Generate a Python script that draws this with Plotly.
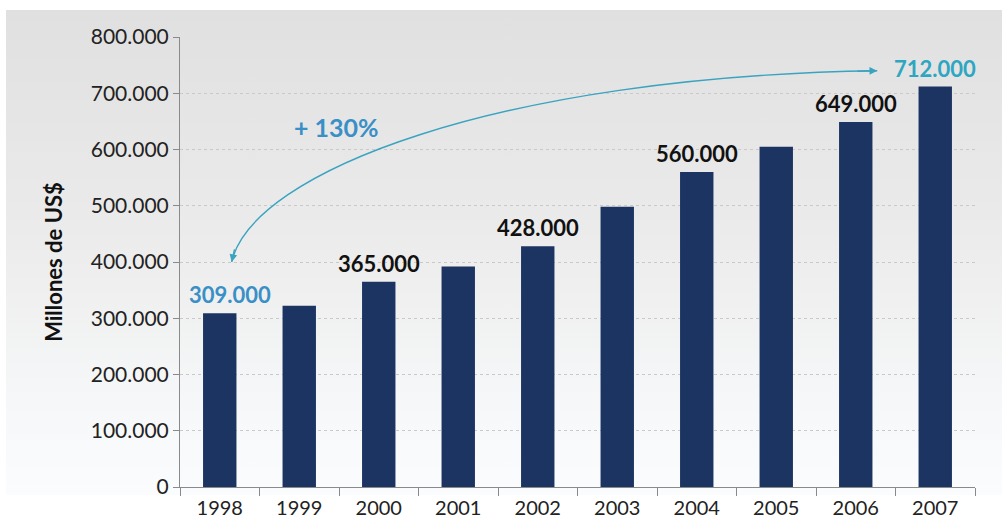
import base64
import plotly.graph_objects as go

# Exportaciones anuales (millones de US$)
years = [1998, 1999, 2000, 2001, 2002, 2003, 2004, 2005, 2006, 2007]
values = [309000, 322000, 365000, 392000, 428000, 498000, 560000, 605000, 649000, 712000]

# Años cuyo valor se rotula sobre la barra
labeled_years = [1998, 2000, 2002, 2004, 2006, 2007]
y_ticks = [0, 100000, 200000, 300000, 400000, 500000, 600000, 700000, 800000]
growth_text = "+ 130%"

NAVY = "#1b3461"
BLUE = "#3a8fc6"
TEAL = "#2ea6c2"
ARROW = "#3aa3c0"
FONT = "Lato"


def fmt(v):
    return f"{v:,}".replace(",", ".")


fig = go.Figure()
fig.add_trace(go.Bar(
    x=years, y=values, width=0.42,
    marker=dict(color=NAVY, line=dict(width=0)),
    hoverinfo="skip",
))

# Rótulos de valor sobre las barras
annotations = []
for yr, v in zip(years, values):
    if yr not in labeled_years:
        continue
    color = "#111111"
    xshift = 0
    if yr == years[0]:
        color, xshift = BLUE, 10
    elif yr == years[-1]:
        color = TEAL
    annotations.append(dict(
        x=yr, y=v, xref="x", yref="y", text=f"<b>{fmt(v)}</b>",
        showarrow=False, yanchor="bottom", yshift=3, xshift=xshift,
        font=dict(family=FONT, size=22, color=color),
    ))

# Texto de crecimiento
annotations.append(dict(
    x=1999.47, y=640000, xref="x", yref="y", text=f"<b>{growth_text}</b>",
    showarrow=False, font=dict(family=FONT, size=25, color=BLUE),
))

# Curva que une el primer y el último año
p0 = (2006.27, 740000)
p1 = (2001.5, 730000)
p2 = (1998.4, 560000)
p3 = (1998.15, 400000)
curve = (f"M {p0[0]},{p0[1]} C {p1[0]},{p1[1]} {p2[0]},{p2[1]} "
         f"{p3[0]},{p3[1]}")
shapes = [dict(type="path", path=curve, xref="x", yref="y",
               line=dict(color=ARROW, width=1.4), layer="above")]

# Puntas de flecha en ambos extremos
annotations.append(dict(
    x=p3[0], y=p3[1], ax=1998.19, ay=425000, xref="x", yref="y",
    axref="x", ayref="y", text="", showarrow=True, arrowhead=2,
    arrowsize=1.1, arrowwidth=1.4, arrowcolor=ARROW,
))
annotations.append(dict(
    x=p0[0], y=p0[1], ax=2006.0, ay=739000, xref="x", yref="y",
    axref="x", ayref="y", text="", showarrow=True, arrowhead=2,
    arrowsize=1.1, arrowwidth=1.4, arrowcolor=ARROW,
))

# Fondo con degradado vertical
svg = (
    '<svg xmlns="http://www.w3.org/2000/svg" width="100" height="100" '
    'preserveAspectRatio="none">'
    '<defs><linearGradient id="g" x1="0" y1="0" x2="0" y2="1">'
    '<stop offset="0" stop-color="#e0e0e0"/>'
    '<stop offset="0.45" stop-color="#ebebeb"/>'
    '<stop offset="0.8" stop-color="#f6f7f8"/>'
    '<stop offset="1" stop-color="#fbfcfd"/>'
    '</linearGradient></defs>'
    '<rect width="100" height="100" fill="url(#g)"/></svg>'
)
src = "data:image/svg+xml;base64," + base64.b64encode(svg.encode()).decode()
images = [dict(source=src, xref="paper", yref="paper",
               x=-0.2189, y=1.06, sizex=1.2529, sizey=1.078,
               xanchor="left", yanchor="top", sizing="stretch",
               layer="below")]

boundaries = [yr - 0.5 for yr in years] + [years[-1] + 0.5]

fig.update_layout(
    width=1002, height=523,
    margin=dict(l=180, r=27, t=37, b=36),
    paper_bgcolor="white",
    plot_bgcolor="rgba(0,0,0,0)",
    separators=",.",
    showlegend=False,
    font=dict(family=FONT, color="#222222"),
    annotations=annotations,
    shapes=shapes,
    images=images,
    xaxis=dict(
        range=[years[0] - 0.5, years[-1] + 0.5], automargin=False,
        tickmode="array", tickvals=years, ticktext=[str(y) for y in years],
        ticks="outside", ticklen=3, tickcolor="rgba(0,0,0,0)",
        showgrid=False, zeroline=False,
        showline=True, linecolor="#8a8a8a", linewidth=1,
        tickfont=dict(family=FONT, size=20, color="#222222"),
        minor=dict(tickmode="array", tickvals=boundaries, ticks="outside",
                   ticklen=8, tickcolor="#8a8a8a", showgrid=False),
    ),
    yaxis=dict(
        range=[0, 800000], automargin=False, tickmode="array", tickvals=y_ticks,
        ticktext=[fmt(v) for v in y_ticks],
        ticks="outside", ticklen=6, tickcolor="#8a8a8a",
        showline=True, linecolor="#8a8a8a", linewidth=1,
        showgrid=True, gridcolor="#c9c9c9", griddash="dot", gridwidth=1,
        zeroline=False,
        tickfont=dict(family=FONT, size=21, color="#222222"),
        title=dict(text="<b>Millones de US$</b>", standoff=22,
                   font=dict(family=FONT, size=22, color="#111111")),
    ),
)

fig.write_html("out.html")
